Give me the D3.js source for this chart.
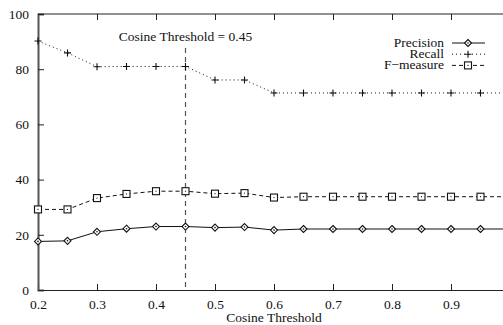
<!DOCTYPE html>
<html>
<head>
<meta charset="utf-8">
<script src="https://cdn.jsdelivr.net/npm/d3@7"></script>
<style>
  body { margin: 0; background: #fff; }
  #chart text { font-family: 'Liberation Serif'; }
</style>
</head>
<body>
<svg id="chart" width="503" height="325"></svg>
<script>
const thresholds = [0.2, 0.25, 0.3, 0.35, 0.4, 0.45, 0.5, 0.55, 0.6, 0.65, 0.7, 0.75, 0.8, 0.85, 0.9, 0.95, 1.0];
const precision = [17.6, 17.8, 21.1, 22.2, 23.0, 23.0, 22.6, 22.8, 21.7, 22.1, 22.1, 22.1, 22.1, 22.1, 22.1, 22.1, 22.1];
const recall = [90.2, 85.9, 80.9, 81.0, 81.0, 81.0, 76.1, 76.1, 71.4, 71.4, 71.4, 71.4, 71.4, 71.4, 71.4, 71.4, 71.4];
const fmeasure = [29.2, 29.2, 33.3, 34.8, 35.8, 35.8, 34.9, 35.1, 33.5, 33.8, 33.8, 33.8, 33.8, 33.8, 33.8, 33.8, 33.8];
const xTicks = [0.2, 0.3, 0.4, 0.5, 0.6, 0.7, 0.8, 0.9];
const yTicks = [0, 20, 40, 60, 80, 100];
const marked = 0.45;

const svg = d3.select('#chart');
const x = d3.scaleLinear().domain([0.2, 1.0]).range([38, 510]);
const y = d3.scaleLinear().domain([0, 100]).range([290, 14]);

// frame: top line with inward ticks
svg.append('line').attr('x1', 38).attr('x2', 510).attr('y1', y(100)).attr('y2', y(100))
  .attr('stroke', '#222').attr('stroke-width', 1.2);

const xAxis = svg.append('g').attr('transform', `translate(0,${y(0)})`)
  .call(d3.axisBottom(x).tickValues(xTicks).tickSize(-6).tickPadding(9).tickFormat(d3.format('.1f')));
const xTop = svg.append('g').attr('transform', `translate(0,${y(100)})`)
  .call(d3.axisTop(x).tickValues(xTicks).tickSize(-6).tickFormat(''));
const yAxis = svg.append('g').attr('transform', `translate(${x(0.2)},0)`)
  .call(d3.axisLeft(y).tickValues(yTicks).tickSize(-6).tickPadding(9));

[xAxis, xTop, yAxis].forEach(g => {
  g.attr('font-family', null);
  g.selectAll('text').attr('font-size', 13.5).attr('fill', '#111');
  g.selectAll('line').attr('stroke', '#222');
});
xAxis.select('.domain').attr('stroke', '#222').attr('stroke-width', 1.2);
xTop.select('.domain').remove();
yAxis.select('.domain').attr('stroke', '#555').attr('stroke-width', 2);

// x title
svg.append('text').attr('x', (x(0.2) + x(1.0)) / 2).attr('y', 322).attr('text-anchor', 'middle')
  .attr('font-size', 13.5).attr('fill', '#111').text('Cosine Threshold');

// marker line
svg.append('line').attr('x1', x(marked)).attr('x2', x(marked)).attr('y1', 48).attr('y2', y(0))
  .attr('stroke', '#555').attr('stroke-width', 1.2).attr('stroke-dasharray', '5,4');
svg.append('text').attr('x', x(marked)).attr('y', 41).attr('text-anchor', 'middle')
  .attr('font-size', 13.5).attr('fill', '#111').text('Cosine Threshold = 0.45');

const series = [
  { name: 'Precision', values: precision, dash: null, marker: 'diamond' },
  { name: 'Recall', values: recall, dash: '1,3', marker: 'plus' },
  { name: 'F\u2212measure', values: fmeasure, dash: '4,3', marker: 'square' }
];

function drawMarker(g, type, cx, cy) {
  if (type === 'diamond') {
    g.append('path').attr('d', `M${cx},${cy - 3.5}L${cx + 3.5},${cy}L${cx},${cy + 3.5}L${cx - 3.5},${cy}Z`)
      .attr('fill', '#fff').attr('stroke', '#111').attr('stroke-width', 1.1);
    g.append('circle').attr('cx', cx).attr('cy', cy).attr('r', 0.8).attr('fill', '#111');
  } else if (type === 'plus') {
    g.append('path').attr('d', `M${cx - 3.5},${cy}H${cx + 3.5}M${cx},${cy - 3.5}V${cy + 3.5}`)
      .attr('stroke', '#111').attr('stroke-width', 1.1);
  } else {
    g.append('rect').attr('x', cx - 3.5).attr('y', cy - 3.5).attr('width', 7).attr('height', 7)
      .attr('fill', '#fff').attr('stroke', '#111').attr('stroke-width', 1.1);
    g.append('circle').attr('cx', cx).attr('cy', cy).attr('r', 0.6).attr('fill', '#111');
  }
}

const line = d3.line().x((d, i) => x(thresholds[i])).y(d => y(d));
const plot = svg.append('g');
series.forEach(s => {
  plot.append('path').datum(s.values).attr('d', line).attr('fill', 'none')
    .attr('stroke', '#111').attr('stroke-width', 1).attr('stroke-dasharray', s.dash);
  const mg = plot.append('g');
  s.values.forEach((v, i) => drawMarker(mg, s.marker, x(thresholds[i]), y(v)));
});

// legend
const legend = svg.append('g');
series.forEach((s, i) => {
  const ly = 43 + i * 11.2;
  legend.append('text').attr('x', 444).attr('y', ly + 4).attr('text-anchor', 'end')
    .attr('font-size', 13.5).attr('fill', '#111').text(s.name);
  legend.append('line').attr('x1', 452).attr('x2', 485).attr('y1', ly).attr('y2', ly)
    .attr('stroke', '#111').attr('stroke-width', 1).attr('stroke-dasharray', s.dash);
  drawMarker(legend, s.marker, 468, ly);
});

svg.selectAll('text').attr('font-family', 'Liberation Serif');
</script>
</body>
</html>
